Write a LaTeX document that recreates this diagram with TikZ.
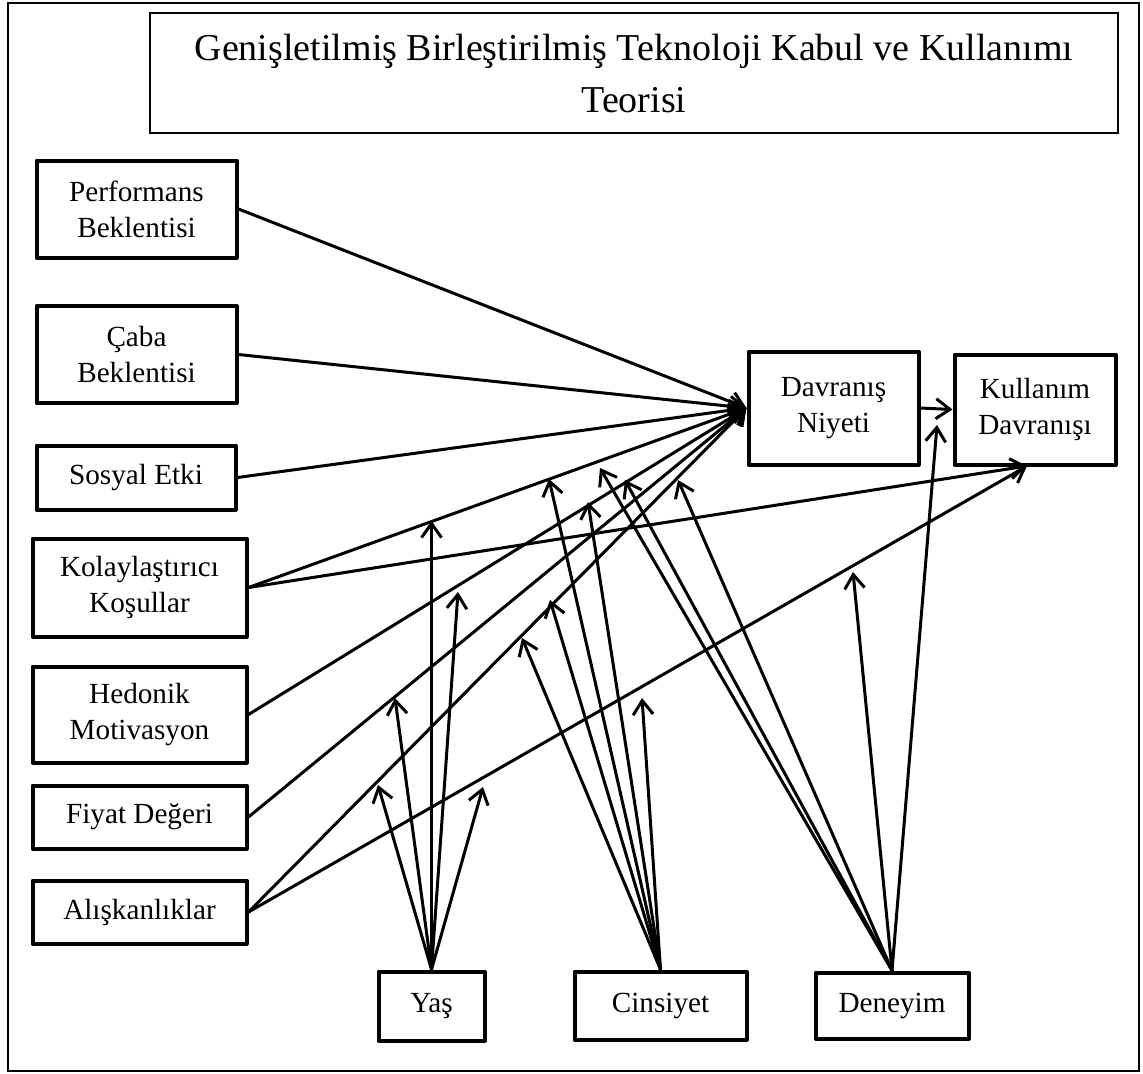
\documentclass[tikz,border=0pt]{standalone}
\usepackage{fontspec}
\setmainfont{Liberation Serif}
\usetikzlibrary{arrows.meta}
\begin{document}
\begin{tikzpicture}[x=0.5pt,y=-0.5pt,
  box/.style={draw, line width=2pt, line join=round, align=center, inner sep=0pt, font=\fontsize{14.6}{18}\selectfont},
  conn/.style={line width=1.5pt, line cap=round, -{Straight Barb[length=7pt,width=10pt]}},
  plainline/.style={line width=1.5pt, line cap=round}]
\useasboundingbox (0,0) rectangle (1143,1073);
\draw[line width=1pt] (8,3) rectangle (1139,1071);
\node[draw, line width=0.8pt, minimum width=484pt, minimum height=60pt, inner sep=0pt, align=center, font=\fontsize{19}{26}\selectfont] (title) at (634,73) {Genişletilmiş Birleştirilmiş Teknoloji Kabul ve Kullanımı\\Teorisi};

\node[box, minimum width=100pt, minimum height=48.5pt] (pb) at (136.5,209) {Performans\\Beklentisi};
\node[box, minimum width=100pt, minimum height=48.5pt] (cb) at (136.5,354.5) {Çaba\\Beklentisi};
\node[box, minimum width=99.5pt, minimum height=32pt] (se) at (136,477.5) {Sosyal Etki};
\node[box, minimum width=107pt, minimum height=49pt] (kk) at (139.5,587.5) {Kolaylaştırıcı\\Koşullar};
\node[box, minimum width=107pt, minimum height=48pt] (hm) at (139.5,714.5) {Hedonik\\Motivasyon};
\node[box, minimum width=107pt, minimum height=31.5pt] (fd) at (139.5,817) {Fiyat Değeri};
\node[box, minimum width=107pt, minimum height=31.5pt] (al) at (139.5,912) {Alışkanlıklar};
\node[box, minimum width=85pt, minimum height=56.5pt] (dn) at (833.5,408) {Davranış\\Niyeti};
\node[box, minimum width=80.5pt, minimum height=55pt] (kd) at (1035,409.5) {Kullanım\\Davranışı};
\node[box, minimum width=53pt, minimum height=34.5pt] (yas) at (431.5,1006) {Yaş};
\node[box, minimum width=86pt, minimum height=34pt] (cin) at (660.5,1005.5) {Cinsiyet};
\node[box, minimum width=76.5pt, minimum height=33pt] (den) at (892,1005.5) {Deneyim};

\coordinate (kdin) at (1027,466);
\coordinate (y1) at (378,785);
\coordinate (y2) at (395,698);
\coordinate (y3) at (431.5,521);
\coordinate (y4) at (458,592);
\coordinate (y5) at (483,787);
\coordinate (c1) at (549,479);
\coordinate (c2) at (588,502);
\coordinate (c3) at (550,600);
\coordinate (c4) at (522,638);
\coordinate (c5) at (642,698);
\coordinate (d1) at (600,468);
\coordinate (d2) at (625,480);
\coordinate (d3) at (678,480);
\coordinate (d4) at (853,572);
\coordinate (d5) at (937,425);

\foreach \s in {pb,cb,se,kk,hm,fd,al}
  \draw[conn] (\s.east) -- (dn.west);
\draw[conn] (kk.east) -- (kdin);
\draw[conn] (al.east) -- (kdin);
\draw[conn] (dn.east) -- (kd.west);
\foreach \t in {y1,y2,y3,y4,y5}
  \draw[conn] (yas.north) -- (\t);
\foreach \t in {c1,c2,c3,c4,c5}
  \draw[conn] (cin.north) -- (\t);
\foreach \t in {d1,d2,d3,d4,d5}
  \draw[conn] (den.north) -- (\t);
\end{tikzpicture}
\end{document}
